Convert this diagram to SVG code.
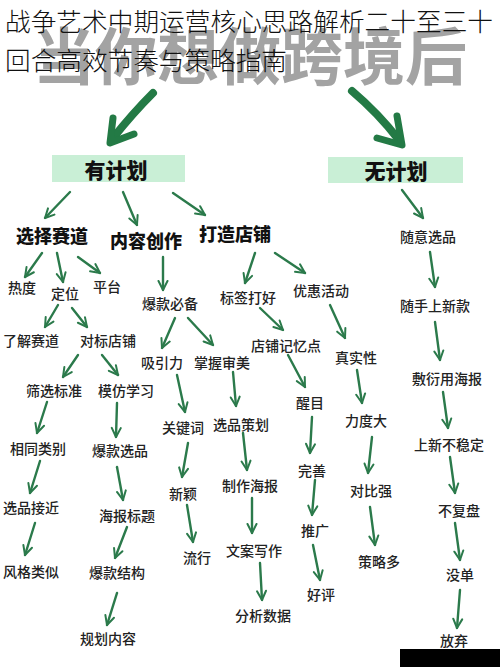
<svg xmlns="http://www.w3.org/2000/svg" width="500" height="667" viewBox="0 0 500 667">
<defs>
<style>
.t{font-family:"Noto Sans CJK SC","Noto Sans CJK JP",sans-serif;font-size:14px;font-weight:500;fill:#222;text-anchor:middle;dominant-baseline:central}
.b{font-family:"Noto Sans CJK SC","Noto Sans CJK JP",sans-serif;font-size:18px;font-weight:900;fill:#111;text-anchor:middle;dominant-baseline:central}
.h{font-family:"Noto Sans CJK SC","Noto Sans CJK JP",sans-serif;font-size:21px;font-weight:900;fill:#111;text-anchor:middle;dominant-baseline:central}
.c line{stroke:#2b7a4b;stroke-width:2.4;stroke-linecap:round;marker-end:url(#ah)}
.big{fill:none;stroke:#237a45;stroke-linecap:round;stroke-linejoin:round}
.box{fill:#c9efd6}
</style>
<marker id="ah" viewBox="0 0 12 12" refX="10.5" refY="6" markerWidth="12" markerHeight="12" markerUnits="userSpaceOnUse" orient="auto">
<path d="M1.5,1.5 L10.5,6 L1.5,10.5" fill="none" stroke="#2b7a4b" stroke-width="2" stroke-linecap="round" stroke-linejoin="round"/>
</marker>
</defs>
<rect width="500" height="667" fill="#fff"/>
<text x="250" y="80" font-family="Noto Sans CJK SC,sans-serif" font-size="62" font-weight="700" fill="#a3a3a3" text-anchor="middle" textLength="434" lengthAdjust="spacingAndGlyphs">当你想做跨境后</text>
<g id="title">
<text x="5" y="31" font-family="Noto Sans CJK SC,sans-serif" font-size="24.5" font-weight="300" fill="#111" textLength="488" lengthAdjust="spacingAndGlyphs">战争艺术中期运营核心思路解析二十至三十</text>
<text x="5" y="70" font-family="Noto Sans CJK SC,sans-serif" font-size="25" font-weight="300" fill="#111" textLength="282" lengthAdjust="spacingAndGlyphs">回合高效节奏与策略指南</text>
</g>
<g id="big-arrows">
<path class="big" d="M153,93 Q133,113 113,138" stroke-width="8"/>
<path class="big" d="M113,118 L110,143 L134,134" stroke-width="7"/>
<path class="big" d="M352,91 Q378,113 399,140" stroke-width="8"/>
<path class="big" d="M397,116 L402,145 L377,138" stroke-width="7"/>
</g>
<g id="n-youjihua"><rect class="box" x="52" y="155" width="133" height="27"/><text class="h" x="116" y="169">有计划</text></g>
<g id="n-wujihua"><rect class="box" x="328" y="157" width="135" height="26"/><text class="h" x="396" y="170">无计划</text></g>
<g class="c" id="connectors">
<line x1="70" y1="192" x2="45" y2="218"/>
<line x1="123" y1="192" x2="137" y2="225"/>
<line x1="173" y1="193" x2="205" y2="215"/>
<line x1="42" y1="253" x2="25" y2="277"/>
<line x1="57" y1="253" x2="63" y2="282"/>
<line x1="78" y1="257" x2="100" y2="273"/>
<line x1="163" y1="257" x2="163" y2="290"/>
<line x1="255" y1="253" x2="245" y2="283"/>
<line x1="275" y1="253" x2="305" y2="273"/>
<line x1="58" y1="305" x2="45" y2="327"/>
<line x1="72" y1="308" x2="87" y2="327"/>
<line x1="175" y1="318" x2="162" y2="348"/>
<line x1="188" y1="318" x2="213" y2="345"/>
<line x1="260" y1="308" x2="283" y2="330"/>
<line x1="330" y1="305" x2="345" y2="338"/>
<line x1="78" y1="355" x2="63" y2="377"/>
<line x1="102" y1="355" x2="118" y2="375"/>
<line x1="177" y1="375" x2="185" y2="412"/>
<line x1="233" y1="372" x2="236" y2="406"/>
<line x1="288" y1="355" x2="305" y2="387"/>
<line x1="357" y1="370" x2="362" y2="403"/>
<line x1="47" y1="402" x2="37" y2="433"/>
<line x1="117" y1="403" x2="116" y2="437"/>
<line x1="188" y1="443" x2="182" y2="477"/>
<line x1="243" y1="433" x2="247" y2="470"/>
<line x1="312" y1="417" x2="310" y2="453"/>
<line x1="372" y1="437" x2="368" y2="473"/>
<line x1="40" y1="461" x2="30" y2="493"/>
<line x1="117" y1="467" x2="123" y2="500"/>
<line x1="187" y1="505" x2="193" y2="542"/>
<line x1="252" y1="498" x2="252" y2="533"/>
<line x1="315" y1="480" x2="312" y2="515"/>
<line x1="370" y1="507" x2="375" y2="545"/>
<line x1="35" y1="523" x2="25" y2="555"/>
<line x1="127" y1="527" x2="115" y2="558"/>
<line x1="260" y1="563" x2="262" y2="600"/>
<line x1="313" y1="545" x2="320" y2="580"/>
<line x1="117" y1="593" x2="107" y2="625"/>
<line x1="402" y1="190" x2="423" y2="218"/>
<line x1="430" y1="252" x2="435" y2="287"/>
<line x1="435" y1="322" x2="440" y2="360"/>
<line x1="443" y1="392" x2="448" y2="428"/>
<line x1="450" y1="457" x2="455" y2="493"/>
<line x1="455" y1="523" x2="460" y2="560"/>
<line x1="460" y1="590" x2="457" y2="628"/>
</g>
<g id="n1"><text class="b" x="52" y="235">选择赛道</text></g>
<g id="n2"><text class="b" x="146" y="240">内容创作</text></g>
<g id="n3"><text class="b" x="235" y="233">打造店铺</text></g>
<g id="n4"><text class="t" x="22" y="287">热度</text></g>
<g id="n5"><text class="t" x="65" y="293">定位</text></g>
<g id="n6"><text class="t" x="107" y="286">平台</text></g>
<g id="n7"><text class="t" x="170" y="303">爆款必备</text></g>
<g id="n8"><text class="t" x="248" y="297">标签打好</text></g>
<g id="n9"><text class="t" x="321" y="290">优惠活动</text></g>
<g id="n10"><text class="t" x="31" y="340">了解赛道</text></g>
<g id="n11"><text class="t" x="108" y="340">对标店铺</text></g>
<g id="n12"><text class="t" x="162" y="362">吸引力</text></g>
<g id="n13"><text class="t" x="222" y="362">掌握审美</text></g>
<g id="n14"><text class="t" x="286" y="345">店铺记忆点</text></g>
<g id="n15"><text class="t" x="356" y="357">真实性</text></g>
<g id="n16"><text class="t" x="54" y="390">筛选标准</text></g>
<g id="n17"><text class="t" x="126" y="390">模仿学习</text></g>
<g id="n18"><text class="t" x="183" y="427">关键词</text></g>
<g id="n19"><text class="t" x="241" y="424">选品策划</text></g>
<g id="n20"><text class="t" x="310" y="402">醒目</text></g>
<g id="n21"><text class="t" x="366" y="420">力度大</text></g>
<g id="n22"><text class="t" x="38" y="448">相同类别</text></g>
<g id="n23"><text class="t" x="120" y="450">爆款选品</text></g>
<g id="n24"><text class="t" x="183" y="493">新颖</text></g>
<g id="n25"><text class="t" x="250" y="485">制作海报</text></g>
<g id="n26"><text class="t" x="312" y="470">完善</text></g>
<g id="n27"><text class="t" x="371" y="490">对比强</text></g>
<g id="n28"><text class="t" x="31" y="507">选品接近</text></g>
<g id="n29"><text class="t" x="127" y="515">海报标题</text></g>
<g id="n30"><text class="t" x="197" y="557">流行</text></g>
<g id="n31"><text class="t" x="254" y="550">文案写作</text></g>
<g id="n32"><text class="t" x="315" y="530">推广</text></g>
<g id="n33"><text class="t" x="379" y="561">策略多</text></g>
<g id="n34"><text class="t" x="31" y="571">风格类似</text></g>
<g id="n35"><text class="t" x="117" y="572">爆款结构</text></g>
<g id="n36"><text class="t" x="263" y="615">分析数据</text></g>
<g id="n37"><text class="t" x="321" y="594">好评</text></g>
<g id="n38"><text class="t" x="108" y="638">规划内容</text></g>
<g id="r1"><text class="t" x="428" y="236">随意选品</text></g>
<g id="r2"><text class="t" x="435" y="305">随手上新款</text></g>
<g id="r3"><text class="t" x="447" y="378">敷衍用海报</text></g>
<g id="r4"><text class="t" x="449" y="444">上新不稳定</text></g>
<g id="r5"><text class="t" x="459" y="510">不复盘</text></g>
<g id="r6"><text class="t" x="460" y="574">没单</text></g>
<g id="r7"><text class="t" x="454" y="640">放弃</text></g>
<rect x="400" y="649" width="100" height="18" fill="#000"/>
</svg>
